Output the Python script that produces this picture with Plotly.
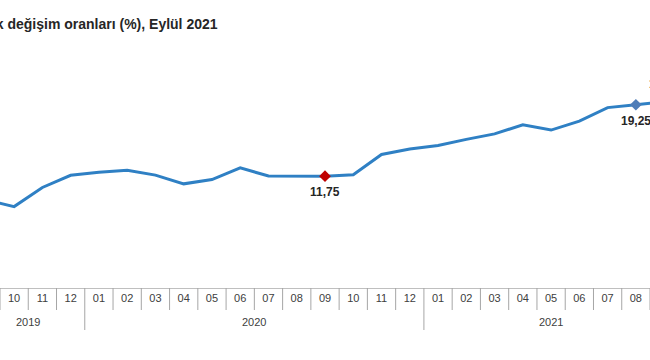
import plotly.graph_objects as go

months = ["09", "10", "11", "12", "01", "02", "03", "04", "05", "06", "07", "08",
          "09", "10", "11", "12", "01", "02", "03", "04", "05", "06", "07", "08", "09"]
years = ["2019", "2020", "2021"]
year_counts = [4, 12, 9]
values = [9.26, 8.55, 10.56, 11.84, 12.15, 12.37, 11.86, 10.94, 11.39, 12.62, 11.76, 11.77,
          11.75, 11.89, 14.03, 14.60, 14.97, 15.61, 16.19, 17.14, 16.59, 17.53, 18.95, 19.25, 19.58]
label_idx = [0, 12, 23, 24]
label_below = [False, True, True, False]
marker_idx = [12, 23, 24]
marker_colors = ["#C00000", "#4F7DB8", "#4F7DB8"]
title = "TÜFE yıllık değişim oranları (%), Eylül 2021"

def fmt(v):
    return f"{v:.2f}".replace(".", ",")

FONT = "Liberation Sans, Arial"
W, H = 650, 360
x_range = [0.5, 23.5]
px_per_unit = W / (x_range[1] - x_range[0])

x = list(range(len(values)))
fig = go.Figure()
fig.add_trace(go.Scatter(x=x, y=values, mode="lines",
                         line=dict(color="#2F80C4", width=3), hoverinfo="skip"))
fig.add_trace(go.Scatter(x=marker_idx, y=[values[i] for i in marker_idx], mode="markers",
                         marker=dict(symbol="diamond", size=9, color=marker_colors), hoverinfo="skip"))

plot_top, plot_bottom = 50, 288
ph = plot_bottom - plot_top

shapes = []
boundaries = []
s = 0
for c in year_counts[:-1]:
    s += c
    boundaries.append(s)
for i in range(len(values)):
    b = i + 0.5
    is_year = (i + 1) in boundaries
    shapes.append(dict(type="line", xref="x", yref="paper", x0=b, x1=b, y0=0,
                       y1=-42 / ph if is_year else -22 / ph,
                       line=dict(color="#A6A6A6", width=1)))

annotations = []
start = 0
for yname, c in zip(years, year_counts):
    center = start + (c - 1) / 2
    annotations.append(dict(text=yname, x=center, xref="x", y=-34 / ph, yref="paper",
                            showarrow=False, yanchor="middle",
                            font=dict(family=FONT, size=11, color="#404040")))
    start += c
eps = 0.02
for i, below in zip(label_idx, label_below):
    xa = min(max(i, x_range[0] + eps), x_range[1] - eps)
    annotations.append(dict(text=f"<b>{fmt(values[i])}</b>", x=xa, xref="x", y=values[i], yref="y",
                            xshift=(i - xa) * px_per_unit,
                            showarrow=False, yanchor="middle", yshift=-16 if below else 18,
                            font=dict(family=FONT, size=12, color="#262626")))
annotations.append(dict(text=f"<b>{title}</b>", x=220 / W, xref="paper", xanchor="right",
                        y=(plot_bottom - 24) / ph, yref="paper", showarrow=False, yanchor="middle",
                        font=dict(family=FONT, size=14, color="#262626")))

fig.update_layout(
    width=W, height=H,
    margin=dict(l=0, r=0, t=plot_top, b=H - plot_bottom, autoexpand=False),
    plot_bgcolor="white", paper_bgcolor="white",
    showlegend=False,
    xaxis=dict(range=x_range, tickvals=x, ticktext=months, ticks="", automargin=False,
               showgrid=False, zeroline=False, showline=True, linecolor="#BFBFBF", linewidth=1,
               tickfont=dict(family=FONT, size=11, color="#404040")),
    yaxis=dict(range=[0, 25], visible=False, automargin=False),
    shapes=shapes, annotations=annotations,
)
fig.write_html("out.html", config={"displayModeBar": False},
               post_script="document.body.style.margin='0';document.body.style.padding='0';")
